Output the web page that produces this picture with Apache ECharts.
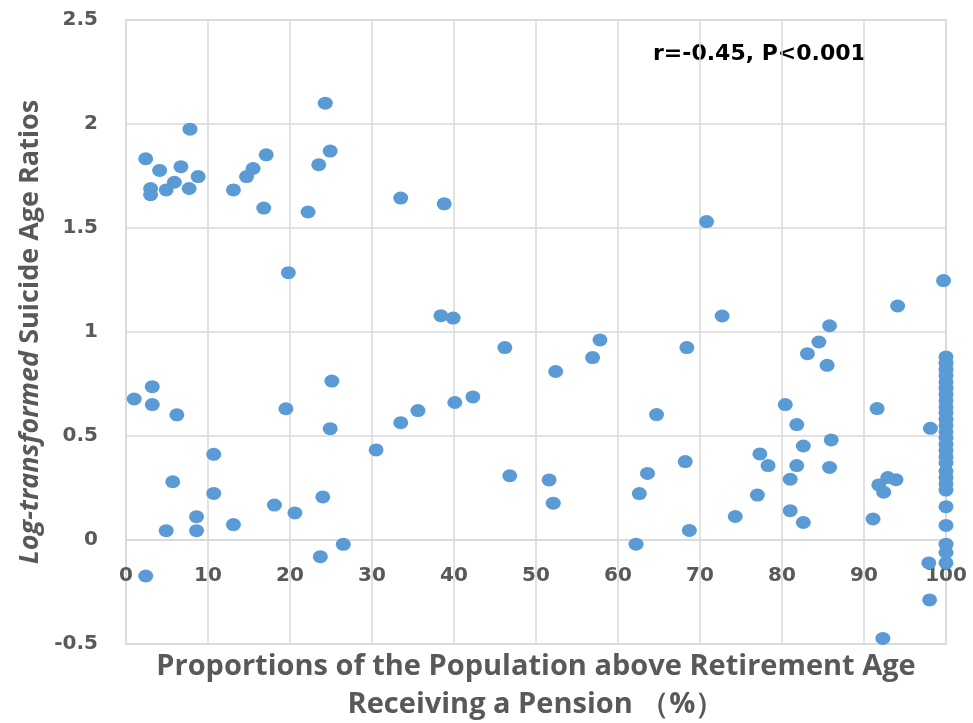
<!DOCTYPE html>
<html>
<head>
<meta charset="utf-8">
<script src="https://cdn.jsdelivr.net/npm/echarts@6/dist/echarts.min.js"></script>
<style>
html,body{margin:0;padding:0;background:#fff;}
#chart{width:973px;height:723px;}
</style>
</head>
<body>
<div id="chart"></div>
<script>
// Proportion receiving pension (%)
var pensionPct = [
  7.8, 2.4, 4.1, 6.7, 8.8, 5.9, 4.9, 3.0, 3.0, 7.7,
  13.1, 14.7, 15.5, 17.1, 16.8, 19.8, 22.2, 23.5, 24.9, 24.3,
  33.5, 38.8, 38.4, 39.9, 46.2, 52.4, 56.9, 57.8,
  1.0, 3.2, 3.2, 6.2, 10.7, 5.7, 10.7, 8.6, 8.6, 4.9,
  13.1, 2.4, 19.5, 25.1, 24.9, 18.1, 20.6, 24.0, 23.7, 26.5,
  30.5, 33.5, 35.6, 40.1, 42.3, 64.7, 46.8, 51.6, 52.1, 63.6,
  62.6, 62.2,
  70.8, 72.7, 68.4, 85.8, 84.5, 83.1, 85.5, 80.4, 81.8, 91.6,
  86.0, 82.6, 77.3, 78.3, 81.8, 85.8, 68.2, 81.0, 77.0, 74.3,
  81.0, 82.6, 68.7, 91.1, 92.9, 93.9, 91.8, 92.4, 99.7, 94.1,
  98.1, 97.9, 98.0, 92.3,
  100, 100, 100, 100, 100, 100, 100, 100, 100, 100,
  100, 100, 100, 100, 100, 100, 100, 100, 100, 100,
  100, 100, 100, 100, 100, 100, 100
];
// Log-transformed suicide age ratios
var logRatio = [
  1.975, 1.833, 1.777, 1.795, 1.747, 1.72, 1.683, 1.69, 1.66, 1.69,
  1.683, 1.747, 1.786, 1.852, 1.596, 1.285, 1.577, 1.804, 1.87, 2.1,
  1.644, 1.616, 1.078, 1.067, 0.925, 0.81, 0.877, 0.962,
  0.678, 0.737, 0.651, 0.602, 0.412, 0.28, 0.224, 0.112, 0.045, 0.045,
  0.074, -0.173, 0.631, 0.764, 0.535, 0.168, 0.13, 0.207, -0.08, -0.021,
  0.433, 0.564, 0.622, 0.661, 0.688, 0.603, 0.309, 0.289, 0.177, 0.32,
  0.223, -0.02,
  1.531, 1.077, 0.925, 1.03, 0.952, 0.896, 0.84, 0.651, 0.555, 0.632,
  0.481, 0.452, 0.414, 0.358, 0.358, 0.349, 0.377, 0.292, 0.216, 0.113,
  0.141, 0.084, 0.046, 0.101, 0.30, 0.29, 0.265, 0.23, 1.247, 1.125,
  0.537, -0.11, -0.288, -0.473,
  0.88, 0.85, 0.82, 0.79, 0.76, 0.73, 0.70, 0.67, 0.64, 0.61,
  0.58, 0.55, 0.52, 0.49, 0.46, 0.43, 0.40, 0.37, 0.33, 0.30,
  0.27, 0.24, 0.16, 0.07, -0.02, -0.06, -0.11
];
var xTicks = {min: 0, max: 100, interval: 10};
var yTicks = {min: -0.5, max: 2.5, interval: 0.5};
var xTitle = 'Proportions of the Population above Retirement Age\nReceiving a Pension \uFF08%\uFF09';
var yTitleItalic = 'Log-transformed';
var yTitleRest = 'Suicide Age Ratios';
var annotation = 'r=-0.45, P<0.001';

var points = pensionPct.map(function (x, i) { return [x, logRatio[i]]; });

var gray = '#595959';
var gridCol = '#d9d9d9';
var gridTop = 20, gridBottom = 79, chartH = 723;
// the x axis (labels + title) sits on the y = 0 line, as in the original
var plotH = chartH - gridTop - gridBottom;
var xAxisOffset = -plotH * (0 - yTicks.min) / (yTicks.max - yTicks.min);

var chart = echarts.init(document.getElementById('chart'), null, {renderer: 'canvas'});
chart.setOption({
  animation: false,
  backgroundColor: '#ffffff',
  grid: {left: 126, right: 27, top: gridTop, bottom: gridBottom, show: true, borderColor: gridCol, borderWidth: 1.5,
         containLabel: false, outerBoundsMode: 'none'},
  xAxis: {
    type: 'value', min: xTicks.min, max: xTicks.max, interval: xTicks.interval,
    offset: xAxisOffset,
    axisLine: {show: true, onZero: false, lineStyle: {color: gridCol, width: 1.5}},
    axisTick: {show: false},
    axisLabel: {color: gray, fontFamily: 'DejaVu Sans', fontWeight: 'bold', fontSize: 20, margin: 26},
    splitLine: {show: true, lineStyle: {color: gridCol, width: 1.5}},
    name: xTitle, nameLocation: 'middle', nameGap: 108,
    nameTextStyle: {color: gray, fontFamily: 'Open Sans', fontWeight: 'bold', fontSize: 29, lineHeight: 38}
  },
  yAxis: {
    type: 'value', min: yTicks.min, max: yTicks.max, interval: yTicks.interval,
    axisLine: {show: false},
    axisTick: {show: false},
    axisLabel: {color: gray, fontFamily: 'DejaVu Sans', fontWeight: 'bold', fontSize: 20, margin: 28},
    splitLine: {show: true, lineStyle: {color: gridCol, width: 1.5}},
    name: '{i|' + yTitleItalic + '} {n|' + yTitleRest + '}',
    nameLocation: 'middle', nameGap: 79, nameRotate: 90,
    nameTextStyle: {
      color: gray, fontFamily: 'Open Sans', fontWeight: 'bold', fontSize: 27,
      rich: {
        i: {color: gray, fontFamily: 'Open Sans', fontWeight: 'bold', fontStyle: 'italic', fontSize: 27},
        n: {color: gray, fontFamily: 'Open Sans', fontWeight: 'bold', fontSize: 27}
      }
    }
  },
  graphic: [{
    type: 'text', left: 653, top: 43,
    style: {text: annotation, fill: '#000', font: 'bold 22px "DejaVu Sans"'}
  }],
  series: [{
    type: 'scatter',
    data: points,
    symbol: 'circle',
    symbolSize: [15, 13],
    itemStyle: {color: '#5B9BD5', opacity: 1}
  }]
});
</script>
</body>
</html>
